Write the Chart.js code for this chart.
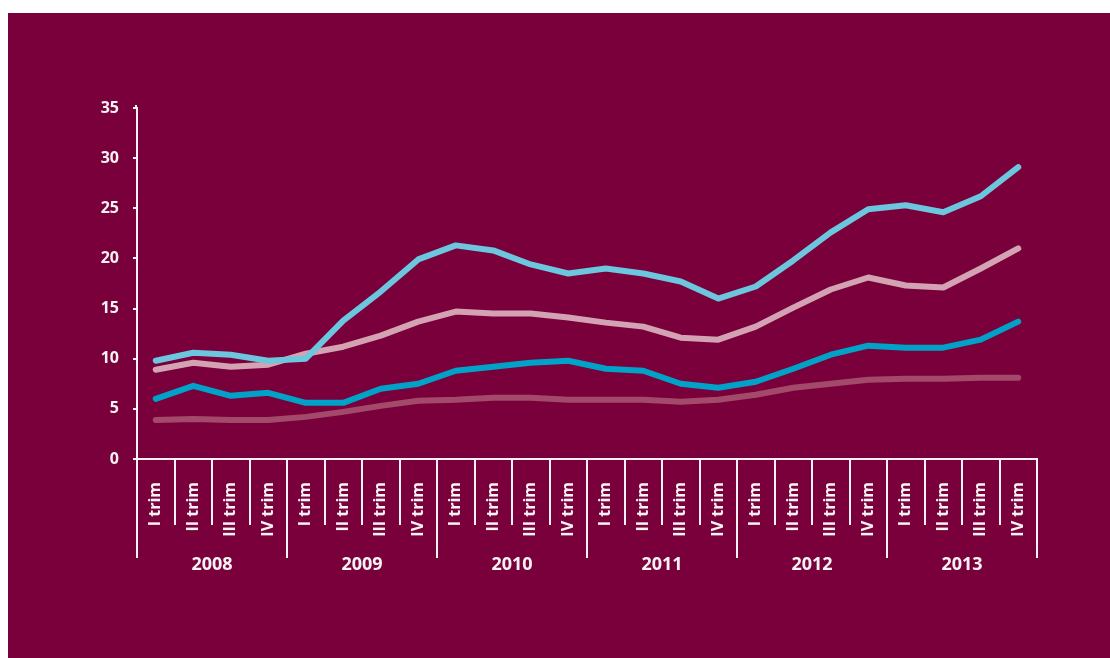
<!DOCTYPE html>
<html>
<head>
<meta charset="utf-8">
<script src="https://cdn.jsdelivr.net/npm/chart.js@4.4.0/dist/chart.umd.min.js"></script>
<style>
    html, body { margin: 0; padding: 0; background: #ffffff; }
    #wrap {
        position: absolute;
        left: 8px;
        top: 13px;
        width: 1102px;
        height: 645px;
        background: #79003a;
    }
</style>
</head>
<body>
<div id="wrap"><canvas id="chart1"></canvas></div>
<script>
const years = ['2008', '2009', '2010', '2011', '2012', '2013'];
const quarters = ['I trim', 'II trim', 'III trim', 'IV trim'];
const yTicks = [0, 5, 10, 15, 20, 25, 30, 35];

const serieA = [9.8, 10.6, 10.4, 9.8, 10.0, 13.8, 16.7, 19.9, 21.3, 20.8, 19.4, 18.5,
    19.0, 18.5, 17.7, 16.0, 17.2, 19.8, 22.6, 24.9, 25.3, 24.6, 26.2, 29.1];
const serieB = [8.9, 9.6, 9.2, 9.4, 10.5, 11.2, 12.3, 13.7, 14.7, 14.5, 14.5, 14.1,
    13.6, 13.2, 12.1, 11.9, 13.2, 15.1, 16.9, 18.1, 17.3, 17.1, 19.0, 21.0];
const serieC = [6.0, 7.3, 6.3, 6.6, 5.6, 5.6, 7.0, 7.5, 8.8, 9.2, 9.6, 9.8,
    9.0, 8.8, 7.5, 7.1, 7.7, 9.0, 10.4, 11.3, 11.1, 11.1, 11.9, 13.7];
const serieD = [3.9, 4.0, 3.9, 3.9, 4.2, 4.7, 5.3, 5.8, 5.9, 6.1, 6.1, 5.9,
    5.9, 5.9, 5.7, 5.9, 6.4, 7.1, 7.5, 7.9, 8.0, 8.0, 8.1, 8.1];

// one label per quarter, years are drawn underneath by the plugin below
const labels = [];
years.forEach(function () {
    quarters.forEach(function (q) { labels.push(q); });
});

const white = '#f7f2f4';
const font = { family: 'Open Sans', weight: 700, size: 16 };

// long separators between years and the year captions
const yearAxis = {
    id: 'yearAxis',
    afterDraw: function (chart) {
        const x = chart.scales.x;
        const y = chart.scales.y;
        const ctx = chart.ctx;
        const step = x.getPixelForValue(1) - x.getPixelForValue(0);
        const top = x.top;
        ctx.save();
        ctx.strokeStyle = white;
        ctx.lineWidth = 2;
        // small stub of the value axis above the last tick
        ctx.beginPath();
        ctx.moveTo(y.right - 1, y.top);
        ctx.lineTo(y.right - 1, y.top - 3);
        ctx.stroke();
        for (let i = 0; i <= years.length; i++) {
            const px = x.getPixelForValue(i * quarters.length) - step / 2;
            ctx.beginPath();
            ctx.moveTo(px, top);
            ctx.lineTo(px, top + 99);
            ctx.stroke();
        }
        ctx.fillStyle = white;
        ctx.font = '700 18px "Open Sans"';
        ctx.textAlign = 'center';
        ctx.textBaseline = 'middle';
        years.forEach(function (yr, i) {
            const a = x.getPixelForValue(i * quarters.length);
            const b = x.getPixelForValue(i * quarters.length + quarters.length - 1);
            ctx.fillText(yr, (a + b) / 2, top + 106);
        });
        ctx.restore();
    }
};

function line(data, color) {
    return {
        data: data,
        borderColor: color,
        borderWidth: 6,
        borderCapStyle: 'round',
        borderJoinStyle: 'round',
        pointRadius: 0,
        tension: 0,
        fill: false
    };
}

const ctx1 = document.getElementById('chart1').getContext('2d');
const chart1 = new Chart(ctx1, {
    type: 'line',
    data: {
        labels: labels,
        datasets: [
            line(serieA, '#6cc6de'),
            line(serieB, '#d4a3b3'),
            line(serieC, '#00a2c7'),
            line(serieD, '#a34a6b')
        ]
    },
    options: {
        responsive: true,
        maintainAspectRatio: false,
        animation: false,
        layout: { padding: { left: 0, right: 73, top: 95, bottom: 0 } },
        plugins: {
            legend: { display: false },
            tooltip: { enabled: false }
        },
        scales: {
            x: {
                type: 'category',
                offset: true,
                grid: {
                    offset: true,
                    drawOnChartArea: false,
                    color: white,
                    lineWidth: 2,
                    tickLength: 66
                },
                border: { color: white, width: 2 },
                ticks: {
                    color: white,
                    font: font,
                    minRotation: 90,
                    maxRotation: 90,
                    autoSkip: false,
                    padding: -43
                },
                afterFit: function (scale) { scale.height = 199; }
            },
            y: {
                min: 0,
                max: 35,
                afterBuildTicks: function (scale) {
                    scale.ticks = yTicks.map(function (v) { return { value: v }; });
                },
                grid: {
                    drawOnChartArea: false,
                    color: white,
                    lineWidth: 2,
                    tickLength: 4
                },
                border: { color: white, width: 2 },
                ticks: {
                    color: white,
                    font: font,
                    padding: 14
                },
                afterFit: function (scale) { scale.width = 129; }
            }
        }
    },
    plugins: [yearAxis]
});
</script>
</body>
</html>
